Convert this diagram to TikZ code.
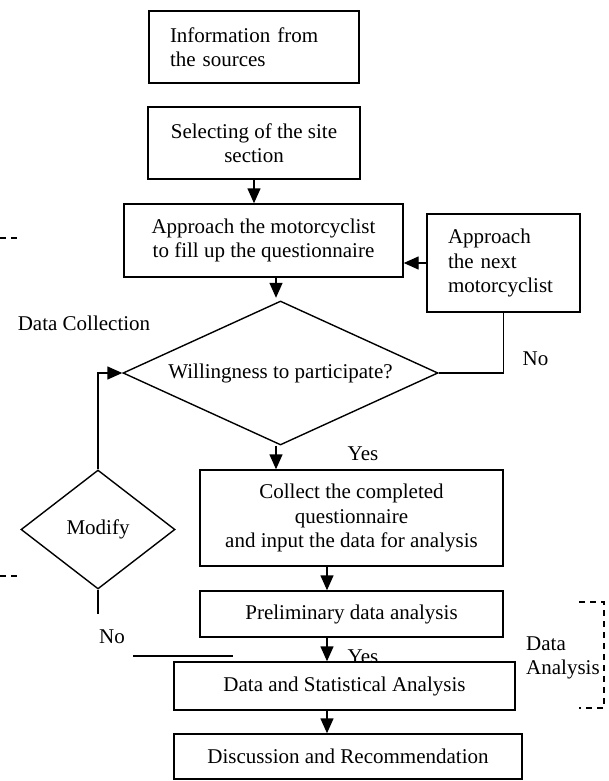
\documentclass[tikz,border=0pt]{standalone}
\usepackage{fontspec}
\setmainfont{Liberation Serif}
\usetikzlibrary{shapes.geometric,arrows.meta}
\begin{document}
\begin{tikzpicture}[x=1pt,y=-1pt,
  every node/.style={font=\fontsize{21}{24.5}\selectfont},
  box/.style={draw,fill=white,line width=1.4pt,inner ysep=0pt,align=center},
  lbox/.style={draw,fill=white,line width=1.4pt,inner ysep=0pt,inner xsep=21pt,align=left},
  dia/.style={draw,line width=1.4pt,shape=diamond,inner sep=0pt},
  conn/.style={line width=1.4pt},
  arr/.style={line width=1.4pt,-{Triangle[length=15pt,width=13pt]}},
  dsh/.style={line width=1.4pt,dash pattern=on 6pt off 5pt},
  lbl/.style={inner sep=0pt}]
\useasboundingbox (0,0) rectangle (609,781);

% labels drawn first (boxes may overlap them)
\node[lbl] (dc) at (84,323) {Data Collection};
\node[lbl] (no1) at (535.5,359) {No};
\node[lbl] (yes1) at (363,454) {Yes};
\node[lbl] (no2) at (112,637) {No};
\node[lbl] (yes2) at (363,657) {Yes};
\node[lbl,align=left,anchor=west] (da) at (526,658) {Data\\Analysis};

% boxes
\node[lbox,minimum width=210pt,minimum height=72pt,text width=168pt] (b1) at (254,47) {Information from\\the sources};
\node[box,minimum width=212pt,minimum height=72pt] (b2) at (254,143) {Selecting of the site\\section};
\node[box,minimum width=279pt,minimum height=73pt] (b3) at (263.5,240.5) {Approach the motorcyclist\\to fill up the questionnaire};
\node[lbox,minimum width=153pt,minimum height=98pt,text width=111pt] (b4) at (503.5,263) {Approach\\the next\\motorcyclist};
\node[dia,minimum width=315pt,minimum height=144pt,aspect=2.19] (w) at (280.5,373) {Willingness to participate?};
\node[dia,minimum width=154pt,minimum height=119pt,aspect=1.3] (m) at (98,529.5) {Modify};
\node[box,minimum width=303pt,minimum height=96pt] (b5) at (351.5,518) {Collect the completed\\questionnaire\\and input the data for analysis};
\node[box,minimum width=303pt,minimum height=46pt] (b6) at (351.5,614) {Preliminary data analysis};
\node[box,minimum width=341pt,minimum height=48pt] (b7) at (344.5,686) {Data and Statistical Analysis};
\node[box,minimum width=348pt,minimum height=45pt] (b8) at (348,756.5) {Discussion and Recommendation};

% helper coordinates
\coordinate (ax) at (327,0);
\coordinate (ay) at (276,0);
\coordinate (mend) at (98,614);
\coordinate (hl1) at (133,656);
\coordinate (hl2) at (233,656);
\coordinate (dl1a) at (0,238);
\coordinate (dl1b) at (18,238);
\coordinate (dl2a) at (0,576);
\coordinate (dl2b) at (18,576);
\coordinate (br1) at (579,602);
\coordinate (br2) at (604,602);
\coordinate (br3) at (604,708);
\coordinate (br4) at (579,708);

% connectors
\draw[arr] (b2.south) -- (b2.south |- b3.north);
\draw[arr] (b3.south -| ay) -- ([yshift=2.5pt]w.north -| ay);
\draw[arr] (b4.west) -- (b4.west -| b3.east);
\draw[conn] (b4.south) |- (w.east);
\draw[arr] (w.south -| ay) -- (b5.north -| ay);
\draw[arr] (m.north) |- (w.west);
\draw[conn] (m.south) -- (mend);
\draw[arr] (b5.south -| ax) -- (b6.north -| ax);
\draw[arr] (b6.south -| ax) -- (b7.north -| ax);
\draw[arr] (b7.south -| ax) -- (b8.north -| ax);
\draw[conn] (hl1) -- (hl2);

% dashed brackets
\draw[dsh] (dl1a) -- (dl1b);
\draw[dsh] (dl2a) -- (dl2b);
\draw[dsh] (br1) -- (br2) -- (br3) -- (br4);
\end{tikzpicture}
\end{document}
